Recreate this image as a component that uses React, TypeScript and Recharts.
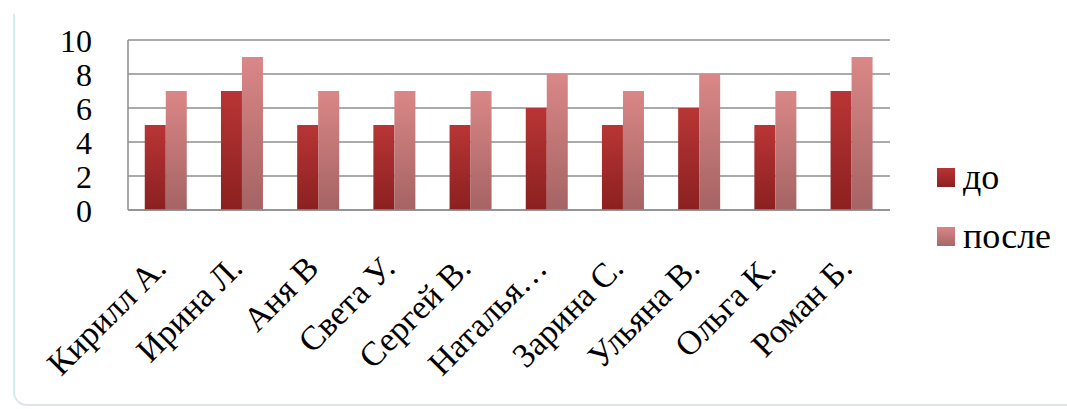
import { BarChart, Bar, XAxis, YAxis, CartesianGrid } from 'recharts';

const students = ['Кирилл А.', 'Ирина Л.', 'Аня В', 'Света У.', 'Сергей В.', 'Наталья…', 'Зарина С.', 'Ульяна  В.', 'Ольга К.', 'Роман Б.'];
const before = [5, 7, 5, 5, 5, 6, 5, 6, 5, 7];
const after = [7, 9, 7, 7, 7, 8, 7, 8, 7, 9];
const yTicks = [0, 2, 4, 6, 8, 10];
const seriesNames = ['до', 'после'];

const data = students.map((name, i) => ({ name, before: before[i], after: after[i] }));

const FONT = '"Times New Roman", Times, "Liberation Serif", "DejaVu Serif", "Noto Serif", serif';
const GRID = '#8e8e8e';

function XTick(props: any) {
  const { x, y, payload } = props;
  return (
    <text
      x={x + 2}
      y={y + 52}
      transform={`rotate(-45, ${x + 2}, ${y + 52})`}
      textAnchor="end"
      fontFamily={FONT}
      fontSize={34}
      fill="#000"
    >
      {payload.value}
    </text>
  );
}

function YTick(props: any) {
  const { y, payload } = props;
  return (
    <text x={92} y={y + 12} textAnchor="end" fontFamily={FONT} fontSize={32} fill="#000">
      {payload.value}
    </text>
  );
}

const legendColors = [
  'linear-gradient(#b83434, #8e2121)',
  'linear-gradient(#d98686, #a86666)',
];

export default function App() {
  return (
    <div style={{ position: 'absolute', left: 0, top: 0, width: 1067, height: 409, background: '#fff', overflow: 'hidden' }}>
      <div
        style={{
          position: 'absolute',
          left: 13,
          top: 14,
          width: 1100,
          height: 390,
          borderLeft: '2px solid #d2ecef',
          borderBottom: '2px solid #dde4e5',
          borderBottomLeftRadius: 14,
        }}
      />
      <BarChart
        width={1067}
        height={409}
        data={data}
        margin={{ top: 40, right: 177, bottom: 9, left: 0 }}
        barCategoryGap="22%"
        barGap={0}
      >
        <defs>
          <linearGradient id="gBefore" x1="0" y1="0" x2="0" y2="1">
            <stop offset="0%" stopColor="#b93535" />
            <stop offset="100%" stopColor="#8b2020" />
          </linearGradient>
          <linearGradient id="gAfter" x1="0" y1="0" x2="0" y2="1">
            <stop offset="0%" stopColor="#da8787" />
            <stop offset="100%" stopColor="#a56363" />
          </linearGradient>
        </defs>
        <CartesianGrid vertical={false} stroke={GRID} strokeWidth={1.5} />
        <XAxis
          dataKey="name"
          height={190}
          interval={0}
          tickLine={false}
          axisLine={{ stroke: GRID, strokeWidth: 1.5 }}
          tick={<XTick />}
        />
        <YAxis
          width={128}
          domain={[0, 10]}
          ticks={yTicks}
          tickLine={false}
          axisLine={{ stroke: GRID, strokeWidth: 1.5 }}
          tick={<YTick />}
        />
        <Bar dataKey="before" name={seriesNames[0]} fill="url(#gBefore)" isAnimationActive={false} />
        <Bar dataKey="after" name={seriesNames[1]} fill="url(#gAfter)" isAnimationActive={false} />
      </BarChart>
      {seriesNames.map((s, i) => (
        <div
          key={s}
          style={{
            position: 'absolute',
            left: 937,
            top: 156 + i * 59,
            display: 'flex',
            alignItems: 'center',
            fontFamily: FONT,
            fontSize: 36,
            color: '#000',
          }}
        >
          <div style={{ width: 18, height: 19, background: legendColors[i], marginRight: 8 }} />
          <span>{s}</span>
        </div>
      ))}
    </div>
  );
}
